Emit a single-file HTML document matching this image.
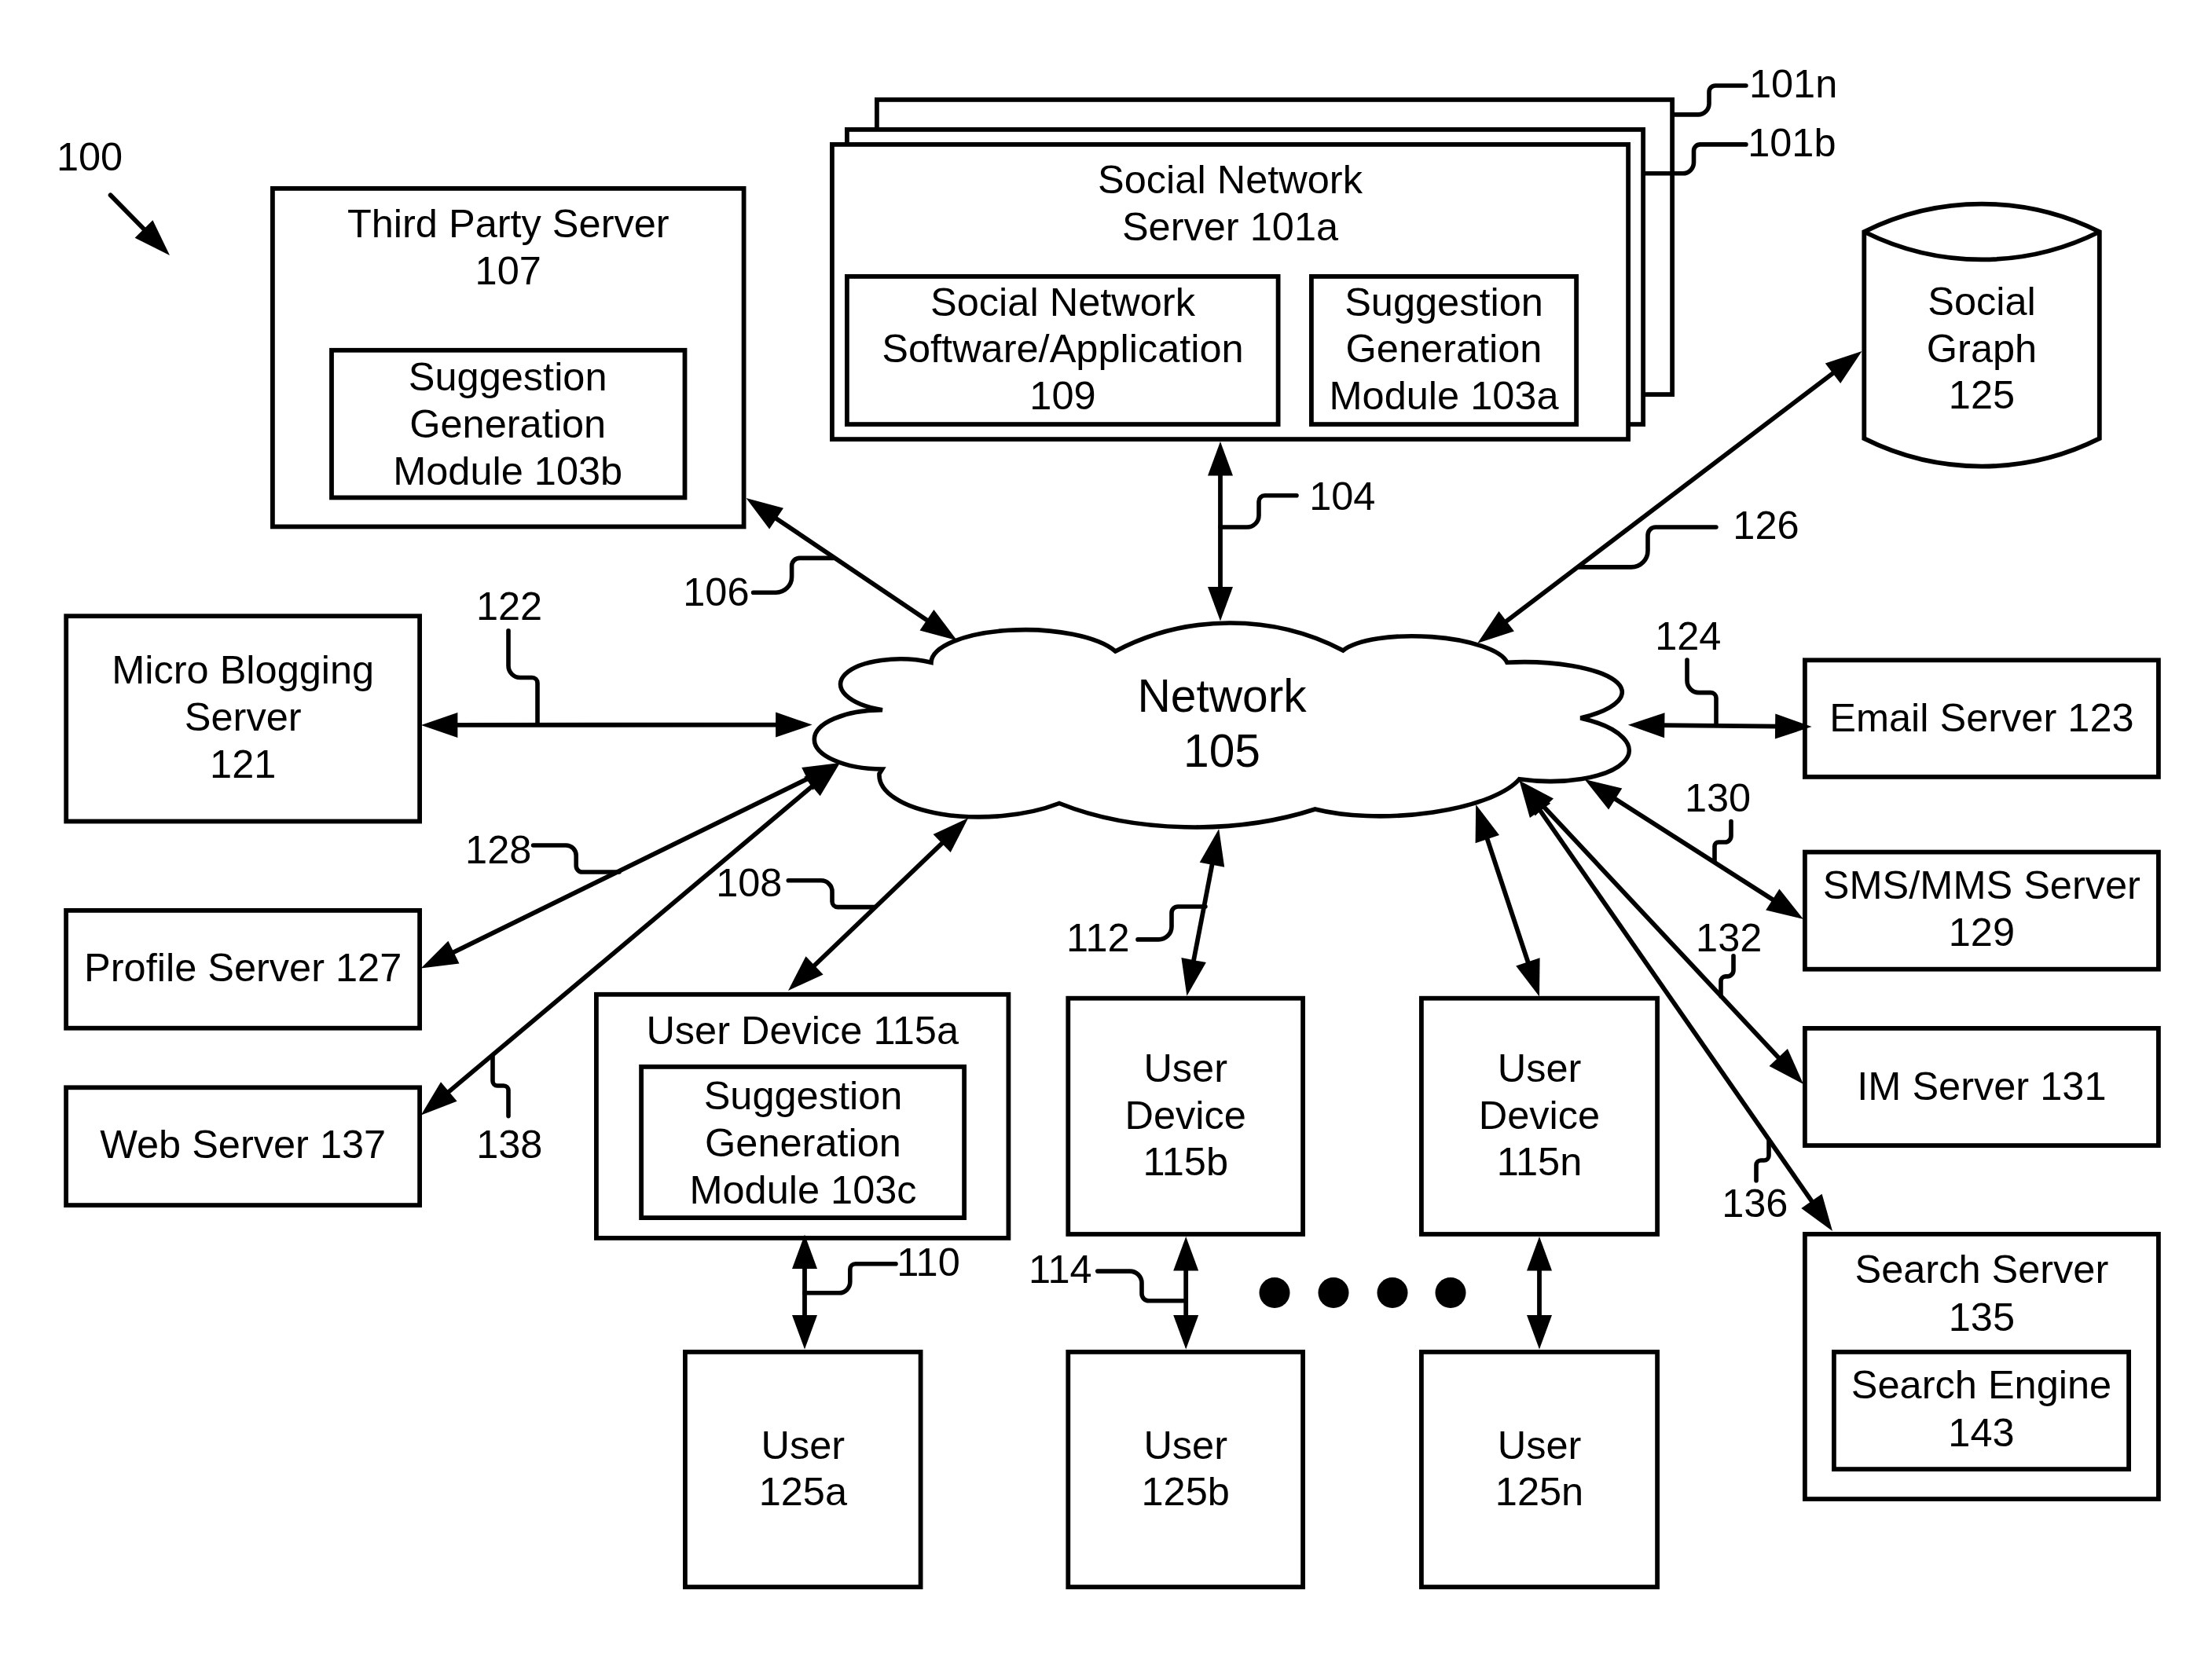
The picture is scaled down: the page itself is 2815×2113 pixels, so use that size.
<!DOCTYPE html>
<html><head><meta charset="utf-8"><style>
html,body{margin:0;padding:0;background:#fff;width:2815px;height:2113px;overflow:hidden}
svg{display:block}
text{font-family:"Liberation Sans",sans-serif;fill:#000}
</style></head><body>
<svg width="2815" height="2113" viewBox="0 0 2815 2113">
<rect x="0" y="0" width="2815" height="2113" fill="#fff"/>
<rect x="346.90" y="239.90" width="599.70" height="430.50" fill="none" stroke="#000" stroke-width="5.8"/>
<rect x="422.00" y="445.80" width="449.50" height="187.60" fill="none" stroke="#000" stroke-width="5.8"/>
<text x="646.75" y="302.00" font-size="50.5" text-anchor="middle">Third Party Server</text>
<text x="646.75" y="362.00" font-size="50.5" text-anchor="middle">107</text>
<text x="646.20" y="496.50" font-size="50.5" text-anchor="middle">Suggestion</text>
<text x="646.20" y="556.50" font-size="50.5" text-anchor="middle">Generation</text>
<text x="646.20" y="616.50" font-size="50.5" text-anchor="middle">Module 103b</text>
<rect x="1115.90" y="126.90" width="1012.20" height="375.20" fill="#fff" stroke="#000" stroke-width="5.8"/>
<rect x="1077.90" y="164.90" width="1013.20" height="375.20" fill="#fff" stroke="#000" stroke-width="5.8"/>
<rect x="1058.90" y="183.90" width="1013.20" height="375.20" fill="#fff" stroke="#000" stroke-width="5.8"/>
<rect x="1077.90" y="351.90" width="548.70" height="188.20" fill="none" stroke="#000" stroke-width="5.8"/>
<rect x="1668.90" y="351.90" width="337.20" height="188.20" fill="none" stroke="#000" stroke-width="5.8"/>
<text x="1565.50" y="245.50" font-size="50.5" text-anchor="middle">Social Network</text>
<text x="1565.50" y="305.50" font-size="50.5" text-anchor="middle">Server 101a</text>
<text x="1352.50" y="401.50" font-size="50.5" text-anchor="middle">Social Network</text>
<text x="1352.50" y="461.00" font-size="50.5" text-anchor="middle">Software/Application</text>
<text x="1352.50" y="520.50" font-size="50.5" text-anchor="middle">109</text>
<text x="1837.50" y="401.50" font-size="50.5" text-anchor="middle">Suggestion</text>
<text x="1837.50" y="461.00" font-size="50.5" text-anchor="middle">Generation</text>
<text x="1837.50" y="520.50" font-size="50.5" text-anchor="middle">Module 103a</text>
<path d="M2372.3,295 A334.6,334.6 0 0 1 2671.8,295 L2671.8,558.2 A334.6,334.6 0 0 1 2372.3,558.2 Z M2372.3,295 A334.6,334.6 0 0 0 2671.8,295" fill="none" stroke="#000" stroke-width="5.8" stroke-linejoin="miter"/>
<text x="2522.00" y="401.40" font-size="50.5" text-anchor="middle">Social</text>
<text x="2522.00" y="460.90" font-size="50.5" text-anchor="middle">Graph</text>
<text x="2522.00" y="520.40" font-size="50.5" text-anchor="middle">125</text>
<rect x="84.20" y="784.20" width="449.90" height="261.30" fill="none" stroke="#000" stroke-width="5.8"/>
<text x="309.20" y="869.80" font-size="50.5" text-anchor="middle">Micro Blogging</text>
<text x="309.20" y="930.00" font-size="50.5" text-anchor="middle">Server</text>
<text x="309.20" y="990.00" font-size="50.5" text-anchor="middle">121</text>
<rect x="84.10" y="1158.90" width="450.00" height="149.80" fill="none" stroke="#000" stroke-width="5.8"/>
<text x="309.20" y="1249.00" font-size="50.5" text-anchor="middle">Profile Server 127</text>
<rect x="84.10" y="1384.30" width="450.00" height="149.80" fill="none" stroke="#000" stroke-width="5.8"/>
<text x="309.20" y="1474.40" font-size="50.5" text-anchor="middle">Web Server 137</text>
<rect x="758.90" y="1265.80" width="524.50" height="310.10" fill="none" stroke="#000" stroke-width="5.8"/>
<rect x="816.10" y="1357.90" width="411.00" height="192.20" fill="none" stroke="#000" stroke-width="5.8"/>
<text x="1021.20" y="1328.50" font-size="50.5" text-anchor="middle">User Device 115a</text>
<text x="1022.00" y="1411.50" font-size="50.5" text-anchor="middle">Suggestion</text>
<text x="1022.00" y="1471.50" font-size="50.5" text-anchor="middle">Generation</text>
<text x="1022.00" y="1531.50" font-size="50.5" text-anchor="middle">Module 103c</text>
<rect x="1359.30" y="1270.70" width="298.80" height="300.30" fill="none" stroke="#000" stroke-width="5.8"/>
<text x="1508.70" y="1376.50" font-size="50.5" text-anchor="middle">User</text>
<text x="1508.70" y="1436.50" font-size="50.5" text-anchor="middle">Device</text>
<text x="1508.70" y="1496.00" font-size="50.5" text-anchor="middle">115b</text>
<rect x="1808.90" y="1270.70" width="300.20" height="300.30" fill="none" stroke="#000" stroke-width="5.8"/>
<text x="1959.00" y="1376.50" font-size="50.5" text-anchor="middle">User</text>
<text x="1959.00" y="1436.50" font-size="50.5" text-anchor="middle">Device</text>
<text x="1959.00" y="1496.00" font-size="50.5" text-anchor="middle">115n</text>
<rect x="871.90" y="1720.90" width="299.70" height="299.20" fill="none" stroke="#000" stroke-width="5.8"/>
<text x="1021.80" y="1856.50" font-size="50.5" text-anchor="middle">User</text>
<text x="1021.80" y="1915.50" font-size="50.5" text-anchor="middle">125a</text>
<rect x="1359.30" y="1720.90" width="298.80" height="299.20" fill="none" stroke="#000" stroke-width="5.8"/>
<text x="1508.70" y="1856.50" font-size="50.5" text-anchor="middle">User</text>
<text x="1508.70" y="1915.50" font-size="50.5" text-anchor="middle">125b</text>
<rect x="1808.90" y="1720.90" width="300.20" height="299.20" fill="none" stroke="#000" stroke-width="5.8"/>
<text x="1959.00" y="1856.50" font-size="50.5" text-anchor="middle">User</text>
<text x="1959.00" y="1915.50" font-size="50.5" text-anchor="middle">125n</text>
<rect x="2296.90" y="840.30" width="450.00" height="148.60" fill="none" stroke="#000" stroke-width="5.8"/>
<text x="2521.90" y="930.90" font-size="50.5" text-anchor="middle">Email Server 123</text>
<rect x="2296.90" y="1084.60" width="450.00" height="149.10" fill="none" stroke="#000" stroke-width="5.8"/>
<text x="2521.90" y="1143.80" font-size="50.5" text-anchor="middle">SMS/MMS Server</text>
<text x="2521.90" y="1203.90" font-size="50.5" text-anchor="middle">129</text>
<rect x="2296.90" y="1308.90" width="450.00" height="149.20" fill="none" stroke="#000" stroke-width="5.8"/>
<text x="2521.90" y="1399.50" font-size="50.5" text-anchor="middle">IM Server 131</text>
<rect x="2296.90" y="1570.90" width="450.00" height="337.20" fill="none" stroke="#000" stroke-width="5.8"/>
<text x="2521.90" y="1632.50" font-size="50.5" text-anchor="middle">Search Server</text>
<text x="2521.90" y="1693.50" font-size="50.5" text-anchor="middle">135</text>
<rect x="2333.90" y="1720.90" width="375.20" height="149.20" fill="none" stroke="#000" stroke-width="5.8"/>
<text x="2521.50" y="1779.50" font-size="50.5" text-anchor="middle">Search Engine</text>
<text x="2521.50" y="1840.50" font-size="50.5" text-anchor="middle">143</text>
<circle cx="1622" cy="1645.5" r="19.5" fill="#000"/>
<circle cx="1697" cy="1645.5" r="19.5" fill="#000"/>
<circle cx="1772" cy="1645.5" r="19.5" fill="#000"/>
<circle cx="1846" cy="1645.5" r="19.5" fill="#000"/>
<path d="M1185,843.2 A43.13,121.94 90.46 0 1 1419.5,829.0 A287.75,260.62 176.49 0 1 1709.2,828.0 A108.43,33.90 -177.52 0 1 1917.8,843.2 A131.42,40.19 179.08 0 1 2011.4,914.0 A43.29,111.04 92.51 0 1 1933.5,991.8 A160.40,54.24 176.64 0 1 1673.6,1030.0 A149.93,287.12 89.17 0 1 1348.0,1022.5 A139.36,58.26 177.38 0 1 1119.0,985.0 L1122.7,979 A86.16,37.44 -179.77 1 1 1123.0,903.8 A79.78,33.63 -178.61 1 1 1185.0,843.2 Z" fill="#fff" stroke="#000" stroke-width="5.6" stroke-linejoin="miter"/>
<text x="1555.00" y="906.00" font-size="58.7" text-anchor="middle">Network</text>
<text x="1555.00" y="976.00" font-size="58.7" text-anchor="middle">105</text>
<line x1="140.6" y1="248.4" x2="187.2" y2="295.7" stroke="#000" stroke-width="5.8" stroke-linecap="round"/>
<polygon points="216.0,324.9 171.6,302.7 194.4,280.2" fill="#000"/>
<line x1="983.1" y1="656.8" x2="1184.4" y2="792.6" stroke="#000" stroke-width="5.8" stroke-linecap="butt"/>
<polygon points="1218.0,815.3 1170.5,802.6 1188.4,776.0" fill="#000"/>
<polygon points="949.5,634.1 997.0,646.8 979.1,673.4" fill="#000"/>
<line x1="1553.0" y1="599.5" x2="1553.0" y2="753.0" stroke="#000" stroke-width="5.8" stroke-linecap="butt"/>
<polygon points="1553.0,790.5 1537.0,747.0 1569.0,747.0" fill="#000"/>
<polygon points="1553.0,562.0 1569.0,605.5 1537.0,605.5" fill="#000"/>
<line x1="1912.4" y1="794.3" x2="2337.3" y2="471.5" stroke="#000" stroke-width="5.8" stroke-linecap="butt"/>
<polygon points="2369.5,447.0 2342.2,487.9 2322.8,462.4" fill="#000"/>
<polygon points="1880.2,818.8 1907.5,777.9 1926.9,803.4" fill="#000"/>
<line x1="576.4" y1="922.9" x2="993.1" y2="922.6" stroke="#000" stroke-width="5.8" stroke-linecap="butt"/>
<polygon points="1033.6,922.6 987.1,938.6 987.1,906.6" fill="#000"/>
<polygon points="535.9,922.9 582.4,906.9 582.4,938.9" fill="#000"/>
<line x1="2112.3" y1="923.2" x2="2265.1" y2="924.7" stroke="#000" stroke-width="5.8" stroke-linecap="butt"/>
<polygon points="2305.6,925.1 2258.9,940.6 2259.3,908.6" fill="#000"/>
<polygon points="2071.8,922.8 2118.5,907.3 2118.1,939.3" fill="#000"/>
<line x1="1032.6" y1="988.8" x2="572.1" y2="1214.7" stroke="#000" stroke-width="5.8" stroke-linecap="butt"/>
<polygon points="535.7,1232.5 570.4,1197.7 584.5,1226.4" fill="#000"/>
<polygon points="1069.0,971.0 1034.3,1005.8 1020.2,977.1" fill="#000"/>
<line x1="1038.0" y1="997.1" x2="566.7" y2="1393.4" stroke="#000" stroke-width="5.8" stroke-linecap="butt"/>
<polygon points="535.7,1419.5 561.0,1377.3 581.6,1401.8" fill="#000"/>
<polygon points="1069.0,971.0 1043.7,1013.2 1023.1,988.7" fill="#000"/>
<line x1="1203.0" y1="1069.3" x2="1032.2" y2="1233.0" stroke="#000" stroke-width="5.8" stroke-linecap="butt"/>
<polygon points="1003.0,1261.0 1025.5,1217.3 1047.6,1240.4" fill="#000"/>
<polygon points="1232.2,1041.3 1209.7,1085.0 1187.6,1061.9" fill="#000"/>
<line x1="1543.6" y1="1094.9" x2="1518.0" y2="1228.0" stroke="#000" stroke-width="5.8" stroke-linecap="butt"/>
<polygon points="1510.4,1267.8 1503.4,1219.1 1534.9,1225.1" fill="#000"/>
<polygon points="1551.2,1055.1 1558.2,1103.8 1526.7,1097.8" fill="#000"/>
<line x1="1890.9" y1="1062.5" x2="1946.3" y2="1230.0" stroke="#000" stroke-width="5.8" stroke-linecap="butt"/>
<polygon points="1959.0,1268.5 1929.2,1229.4 1959.6,1219.3" fill="#000"/>
<polygon points="1878.2,1024.0 1908.0,1063.1 1877.6,1073.2" fill="#000"/>
<line x1="2050.6" y1="1013.8" x2="2260.9" y2="1148.2" stroke="#000" stroke-width="5.8" stroke-linecap="butt"/>
<polygon points="2295.0,1170.0 2247.2,1158.4 2264.4,1131.5" fill="#000"/>
<polygon points="2016.5,992.0 2064.3,1003.6 2047.1,1030.5" fill="#000"/>
<line x1="1961.2" y1="1023.2" x2="2267.3" y2="1350.4" stroke="#000" stroke-width="5.8" stroke-linecap="butt"/>
<polygon points="2295.0,1380.0 2251.5,1357.0 2274.9,1335.1" fill="#000"/>
<polygon points="1933.5,993.6 1977.0,1016.6 1953.6,1038.5" fill="#000"/>
<line x1="1956.6" y1="1026.9" x2="2308.9" y2="1533.7" stroke="#000" stroke-width="5.8" stroke-linecap="butt"/>
<polygon points="2332.0,1567.0 2292.3,1537.9 2318.6,1519.7" fill="#000"/>
<polygon points="1933.5,993.6 1973.2,1022.7 1946.9,1040.9" fill="#000"/>
<line x1="1024.0" y1="1609.0" x2="1024.0" y2="1680.0" stroke="#000" stroke-width="5.8" stroke-linecap="butt"/>
<polygon points="1024.0,1717.5 1008.0,1674.0 1040.0,1674.0" fill="#000"/>
<polygon points="1024.0,1571.5 1040.0,1615.0 1008.0,1615.0" fill="#000"/>
<line x1="1509.2" y1="1611.4" x2="1509.2" y2="1680.0" stroke="#000" stroke-width="5.8" stroke-linecap="butt"/>
<polygon points="1509.2,1717.5 1493.2,1674.0 1525.2,1674.0" fill="#000"/>
<polygon points="1509.2,1573.9 1525.2,1617.4 1493.2,1617.4" fill="#000"/>
<line x1="1959.0" y1="1611.4" x2="1959.0" y2="1680.0" stroke="#000" stroke-width="5.8" stroke-linecap="butt"/>
<polygon points="1959.0,1717.5 1943.0,1674.0 1975.0,1674.0" fill="#000"/>
<polygon points="1959.0,1573.9 1975.0,1617.4 1943.0,1617.4" fill="#000"/>
<path d="M1650.0,630.8 L1609.5,630.8 C1605.4,630.8 1602.0,634.2 1602.0,638.3 L1602.0,656.0 C1602.0,664.3 1595.3,671.0 1587.0,671.0 L1553.0,671.0" fill="none" stroke="#000" stroke-width="5.6" stroke-linecap="round"/>
<path d="M958.6,754.2 L987.6,754.2 C998.6,754.2 1007.6,745.2 1007.6,734.2 L1007.6,720.4 C1007.6,714.9 1012.1,710.4 1017.6,710.4 L1059.8,710.4" fill="none" stroke="#000" stroke-width="5.6" stroke-linecap="round"/>
<path d="M2183.9,671.0 L2107.0,671.0 C2101.5,671.0 2097.0,675.5 2097.0,681.0 L2097.0,700.9 C2097.0,712.5 2087.6,721.9 2076.0,721.9 L2010.3,721.9" fill="none" stroke="#000" stroke-width="5.6" stroke-linecap="round"/>
<path d="M2221.9,109.0 L2183.0,109.0 C2178.6,109.0 2175.0,112.6 2175.0,117.0 L2175.0,131.9 C2175.0,139.6 2168.7,145.9 2161.0,145.9 L2130.8,145.9" fill="none" stroke="#000" stroke-width="5.6" stroke-linecap="round"/>
<path d="M2221.9,183.9 L2163.5,183.9 C2159.1,183.9 2155.5,187.5 2155.5,191.9 L2155.5,206.8 C2155.5,214.5 2149.2,220.8 2141.5,220.8 L2094.0,220.8" fill="none" stroke="#000" stroke-width="5.6" stroke-linecap="round"/>
<path d="M647.0,802.7 L647.0,847.5 C647.0,855.8 653.7,862.5 662.0,862.5 L677.0,862.5 C680.9,862.5 684.0,865.6 684.0,869.5 L684.0,920.0" fill="none" stroke="#000" stroke-width="5.6" stroke-linecap="round"/>
<path d="M2147.0,840.0 L2147.0,866.6 C2147.0,874.9 2153.7,881.6 2162.0,881.6 L2177.0,881.6 C2180.9,881.6 2184.0,884.7 2184.0,888.6 L2184.0,922.0" fill="none" stroke="#000" stroke-width="5.6" stroke-linecap="round"/>
<path d="M678.6,1076.0 L720.2,1076.0 C727.4,1076.0 733.2,1081.8 733.2,1089.0 L733.2,1102.0 C733.2,1106.4 736.8,1110.0 741.2,1110.0 L788.0,1110.0" fill="none" stroke="#000" stroke-width="5.6" stroke-linecap="round"/>
<path d="M1003.3,1120.8 L1045.0,1120.8 C1052.7,1120.8 1059.0,1127.1 1059.0,1134.8 L1059.0,1147.6 C1059.0,1151.5 1062.1,1154.6 1066.0,1154.6 L1112.7,1154.6" fill="none" stroke="#000" stroke-width="5.6" stroke-linecap="round"/>
<path d="M1448.0,1195.9 L1474.5,1195.9 C1483.6,1195.9 1491.0,1188.5 1491.0,1179.4 L1491.0,1162.0 C1491.0,1157.6 1494.6,1154.0 1499.0,1154.0 L1533.9,1154.0" fill="none" stroke="#000" stroke-width="5.6" stroke-linecap="round"/>
<path d="M2203.0,1045.6 L2203.0,1064.0 C2203.0,1068.4 2199.4,1072.0 2195.0,1072.0 L2187.0,1072.0 C2184.2,1072.0 2182.0,1074.2 2182.0,1077.0 L2182.0,1096.4" fill="none" stroke="#000" stroke-width="5.6" stroke-linecap="round"/>
<path d="M2206.0,1216.8 L2206.0,1234.9 C2206.0,1239.3 2202.4,1242.9 2198.0,1242.9 L2196.0,1242.9 C2192.7,1242.9 2190.0,1245.6 2190.0,1248.9 L2190.0,1268.1" fill="none" stroke="#000" stroke-width="5.6" stroke-linecap="round"/>
<path d="M2235.0,1502.8 L2235.0,1483.0 C2235.0,1479.7 2237.7,1477.0 2241.0,1477.0 L2245.0,1477.0 C2248.3,1477.0 2251.0,1474.3 2251.0,1471.0 L2251.0,1450.8" fill="none" stroke="#000" stroke-width="5.6" stroke-linecap="round"/>
<path d="M647.0,1420.6 L647.0,1388.0 C647.0,1384.7 644.3,1382.0 641.0,1382.0 L633.0,1382.0 C629.7,1382.0 627.0,1379.3 627.0,1376.0 L627.0,1344.6" fill="none" stroke="#000" stroke-width="5.6" stroke-linecap="round"/>
<path d="M1140.0,1608.7 L1088.8,1608.7 C1084.9,1608.7 1081.8,1611.8 1081.8,1615.7 L1081.8,1631.8 C1081.8,1639.5 1075.5,1645.8 1067.8,1645.8 L1024.0,1645.8" fill="none" stroke="#000" stroke-width="5.6" stroke-linecap="round"/>
<path d="M1396.8,1618.1 L1438.0,1618.1 C1446.3,1618.1 1453.0,1624.8 1453.0,1633.1 L1453.0,1646.8 C1453.0,1651.8 1457.0,1655.8 1462.0,1655.8 L1509.2,1655.8" fill="none" stroke="#000" stroke-width="5.6" stroke-linecap="round"/>
<text x="71.96" y="216.60" font-size="50.5">100</text>
<text x="2225.96" y="123.70" font-size="50.5">101n</text>
<text x="2224.16" y="198.90" font-size="50.5">101b</text>
<text x="1666.16" y="649.00" font-size="50.5">104</text>
<text x="2205.36" y="685.70" font-size="50.5">126</text>
<text x="869.26" y="770.50" font-size="50.5">106</text>
<text x="605.96" y="788.80" font-size="50.5">122</text>
<text x="2106.16" y="826.80" font-size="50.5">124</text>
<text x="592.06" y="1098.80" font-size="50.5">128</text>
<text x="911.16" y="1140.90" font-size="50.5">108</text>
<text x="1357.06" y="1210.70" font-size="50.5">112</text>
<text x="2143.96" y="1033.00" font-size="50.5">130</text>
<text x="2158.06" y="1210.90" font-size="50.5">132</text>
<text x="2191.16" y="1548.90" font-size="50.5">136</text>
<text x="606.16" y="1473.60" font-size="50.5">138</text>
<text x="1141.26" y="1624.10" font-size="50.5">110</text>
<text x="1309.06" y="1632.90" font-size="50.5">114</text>
</svg></body></html>
